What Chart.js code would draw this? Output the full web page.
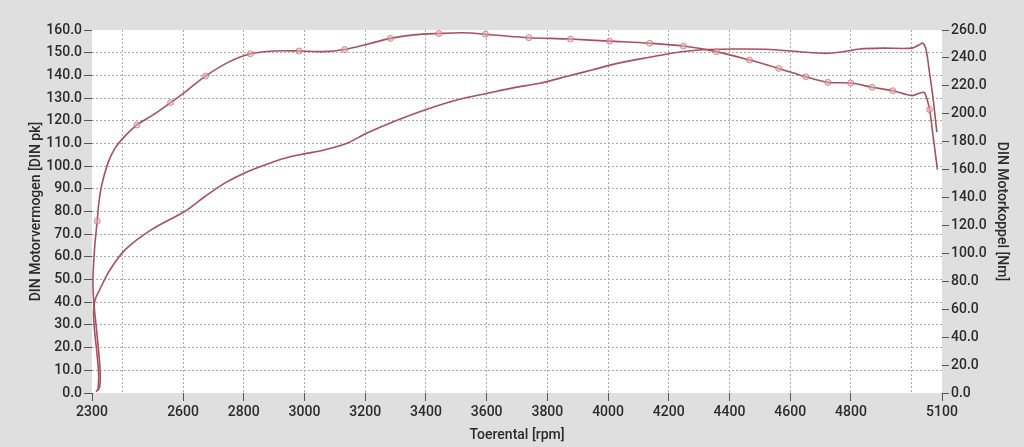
<!DOCTYPE html>
<html><head><meta charset="utf-8">
<script src="https://cdn.jsdelivr.net/npm/chart.js@4/dist/chart.umd.min.js"></script>
<style>html,body{margin:0;padding:0;background:#dfdfdf;}canvas{display:block}</style>
</head><body>
<canvas id="c" width="1024" height="447"></canvas>
<script>
// ---- data ----
const xTickValues = [2300,2400,2600,2800,3000,3200,3400,3600,3800,4000,4200,4400,4600,4800,5000,5100];
const xLabelValues = [2300,2600,2800,3000,3200,3400,3600,3800,4000,4200,4400,4600,4800,5100];

const powerRpm = [2320,2322,2316,2308,2305,2310,2325,2358,2408,2496,2605,2671,2737,2803,2869,2935,3003,3061,3138,3204,3291,3401,3511,3599,3687,3775,3863,3950,4038,4137,4220,4301,4411,4521,4631,4719,4774,4829,4905,5001,5025,5037,5048,5059,5070,5083];
const powerPk  = [1,8,18,28,36,41,45.5,54,63,72,80,86.5,92.5,97,100.5,103.5,105.5,107,110,114.5,119.5,125,129.5,132,134.5,136.5,139.5,142.5,145.5,148,150,151.2,151.6,151.5,150.4,149.7,150.4,151.6,152,152,153.5,154.2,151,141,130.5,115];

const torqueRpm = [2313,2325,2326,2315,2306,2303,2309,2317,2322,2331,2353,2375,2400,2448,2500,2559,2615,2674,2750,2822,2900,2982,3060,3132,3210,3283,3360,3443,3520,3596,3670,3739,3876,4005,4137,4248,4357,4466,4562,4651,4724,4799,4870,4938,5001,5030,5043,5059,5070,5085];
const torqueNm  = [1,4,19,45,65,81,105,123,135,148,165,175,182,192,199,208,217,227,237,243,245,245,244.5,246,250,254,256.5,257.5,258,257,255.5,254.5,253.5,252,250.5,248.5,244.5,238.5,232.5,226.5,222.5,222,219,216.5,213,215,215,203,185,160];
const torqueMarkerRpm = [2317,2448,2559,2674,2822,2982,3132,3283,3443,3596,3739,3876,4005,4137,4248,4357,4466,4562,4651,4724,4799,4870,4938,5059];

// ---- chart ----
const LINE = '#a8505e';
const TXT = '#2b2b2b';
const TICKC = '#555555';
const GRIDC = '#a9a9a9';
const tickFont = {family: 'Roboto, "DejaVu Sans", sans-serif', size: 14, weight: '500'};
const titleFont = {family: 'Roboto, "DejaVu Sans", sans-serif', size: 14, weight: '500', lineHeight: 1.2};

const bgPlugin = {
  id: 'bg',
  beforeDraw(chart) {
    const {ctx, chartArea: a} = chart;
    ctx.save();
    ctx.fillStyle = '#dfdfdf';
    ctx.fillRect(0, 0, chart.width, chart.height);
    ctx.fillStyle = '#ffffff';
    ctx.fillRect(a.left, a.top, a.right - a.left, a.bottom - a.top);
    ctx.restore();
  }
};

new Chart(document.getElementById('c'), {
  type: 'line',
  data: {
    datasets: [
      {
        label: 'DIN Motorkoppel',
        yAxisID: 'yR',
        data: torqueRpm.map((r, i) => ({x: r, y: torqueNm[i]})),
        borderColor: LINE,
        borderWidth: 1.6,
        tension: 0.3,
        pointRadius: (ctx) => (ctx.raw && torqueMarkerRpm.includes(ctx.raw.x)) ? 3 : 0,
        pointBackgroundColor: 'rgba(232,175,184,0.55)',
        pointBorderColor: 'rgba(190,115,128,0.75)',
        pointBorderWidth: 1,
        fill: false
      },
      {
        label: 'DIN Motorvermogen',
        yAxisID: 'yL',
        data: powerRpm.map((r, i) => ({x: r, y: powerPk[i]})),
        borderColor: LINE,
        borderWidth: 1.6,
        tension: 0.3,
        pointRadius: 0,
        fill: false
      }
    ]
  },
  options: {
    responsive: false,
    animation: false,
    events: [],
    layout: {padding: {top: 30, left: 0, right: 0, bottom: 0}},
    plugins: {legend: {display: false}, tooltip: {enabled: false}},
    scales: {
      x: {
        type: 'linear',
        position: 'bottom',
        min: 2300, max: 5100,
        afterBuildTicks(scale) { scale.ticks = xTickValues.map(v => ({value: v})); },
        afterFit(scale) { scale.height = 54; },
        ticks: {
          autoSkip: false, maxRotation: 0, minRotation: 0,
          padding: 3, color: TXT, font: tickFont,
          callback: (v) => xLabelValues.includes(v) ? String(v) : ''
        },
        grid: {
          color: (ctx) => (ctx.tick && (ctx.tick.value === 2300 || ctx.tick.value === 5100)) ? 'rgba(0,0,0,0)' : GRIDC,
          tickColor: (ctx) => (ctx.tick && xLabelValues.includes(ctx.tick.value)) ? TICKC : 'rgba(0,0,0,0)',
          tickLength: 8, lineWidth: 1
        },
        border: {display: false, dash: [2, 2]},
        title: {display: true, text: 'Toerental [rpm]', color: TXT, font: titleFont, padding: {top: 0, bottom: 3}}
      },
      yL: {
        type: 'linear',
        position: 'left',
        min: 0, max: 160,
        afterFit(scale) { scale.width = 92; },
        ticks: {stepSize: 10, padding: 2, color: TXT, font: tickFont, callback: (v) => Number(v).toFixed(1)},
        grid: {
          color: (ctx) => (ctx.tick && (ctx.tick.value === 0 || ctx.tick.value === 160)) ? 'rgba(0,0,0,0)' : GRIDC,
          tickColor: TICKC, tickLength: 8, lineWidth: 1
        },
        border: {display: false, dash: [2, 2]},
        title: {display: true, text: 'DIN Motorvermogen [DIN pk]', color: TXT, font: titleFont, padding: {top: 28, bottom: 0}}
      },
      yR: {
        type: 'linear',
        position: 'right',
        min: 0, max: 260,
        afterFit(scale) { scale.width = 82; },
        ticks: {stepSize: 20, padding: 2, color: TXT, font: tickFont, callback: (v) => Number(v).toFixed(1)},
        grid: {drawOnChartArea: false, tickColor: TICKC, tickLength: 7},
        border: {display: false},
        title: {display: true, text: 'DIN Motorkoppel [Nm]', color: TXT, font: titleFont, padding: {top: 14, bottom: 0}}
      }
    }
  },
  plugins: [bgPlugin]
});
</script>
</body></html>
